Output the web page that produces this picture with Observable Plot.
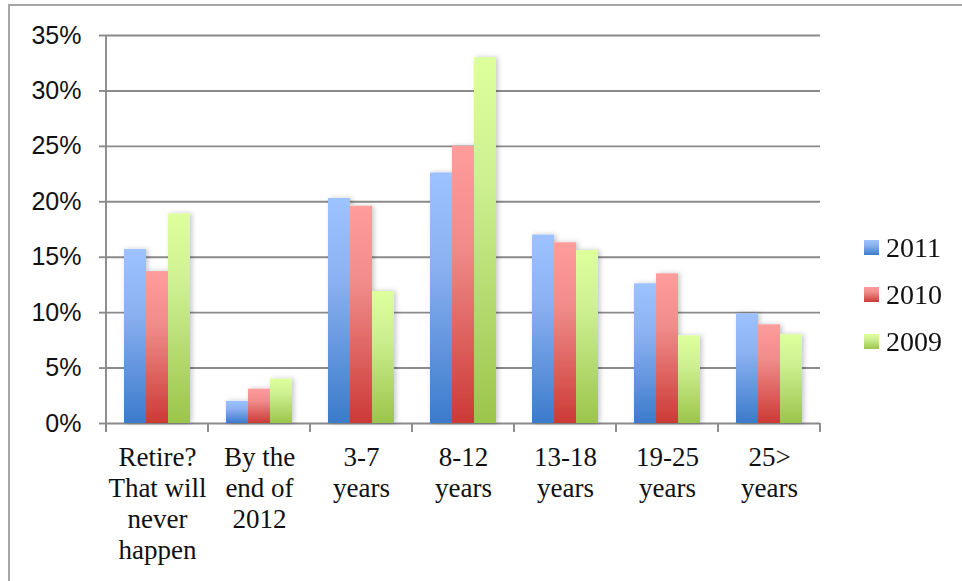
<!DOCTYPE html>
<html>
<head>
<meta charset="utf-8">
<script src="https://cdn.jsdelivr.net/npm/d3@7"></script>
<script src="https://cdn.jsdelivr.net/npm/@observablehq/plot@0.6"></script>
<style>
  body { margin: 0; background: #fff; }
  #wrap { position: relative; width: 962px; height: 581px; overflow: hidden; }
  #frame { position: absolute; left: 8px; top: 4px; width: 1200px; height: 900px;
           border-left: 2px solid #a6a6a6; border-top: 2px solid #a6a6a6; box-sizing: border-box; }
  #chart { position: absolute; left: 0; top: 0; }
</style>
</head>
<body>
<div id="wrap">
  <div id="frame"></div>
  <div id="chart"></div>
</div>
<script>
// ---- data ----
const categories = [
  "Retire?\nThat will\nnever\nhappen",
  "By the\nend of\n2012",
  "3-7\nyears",
  "8-12\nyears",
  "13-18\nyears",
  "19-25\nyears",
  "25>\nyears"
];
const years = ["2011", "2010", "2009"];
const values2011 = [15.7, 2.0, 20.3, 22.6, 17.0, 12.6, 9.9];
const values2010 = [13.7, 3.1, 19.6, 25.0, 16.3, 13.5, 8.9];
const values2009 = [18.9, 4.0, 11.9, 33.0, 15.6, 7.9, 8.0];
const yTicks = [0, 5, 10, 15, 20, 25, 30, 35];

const seriesByYear = { "2011": values2011, "2010": values2010, "2009": values2009 };
const data = years.flatMap(yr => categories.map((c, i) => ({ category: c, year: yr, value: seriesByYear[yr][i] })));

const gradStops = {
  "2011": ["#9dc2ff", "#8db2f2", "#3b7bcb"],
  "2010": ["#ff9c9c", "#f08d8b", "#cc3a36"],
  "2009": ["#ddff9c", "#cdef90", "#9bc54b"]
};

const chart = Plot.plot({
  width: 962,
  height: 581,
  marginLeft: 104,
  marginRight: 140,
  marginTop: 35,
  marginBottom: 158,
  style: { background: "transparent", overflow: "visible" },
  fx: { domain: categories, padding: 0, label: null },
  x: { domain: years, paddingInner: 0, paddingOuter: 0.73, axis: null },
  y: { domain: [0, 35], label: null },
  color: { domain: years, range: years.map(y => `url(#grad-${y})`) },
  marks: [
    Plot.ruleY(yTicks, { stroke: "#8a8a8a", strokeWidth: 1.9 }),
    Plot.barY(data, { fx: "category", x: "year", y: "value", fill: "year" }),
    Plot.axisY(yTicks, {
      tickFormat: d => d + "%", tickSize: 7, tickPadding: 18, label: null,
      stroke: "#8a8a8a", strokeWidth: 1.9, fill: "#111",
      fontSize: 25, fontFamily: "Liberation Sans"
    }),
    Plot.axisFx({
      anchor: "bottom",
      tickSize: 0, tickPadding: 20, label: null, fill: "#111",
      fontSize: 27, fontFamily: "Liberation Serif", lineHeight: 1.15
    })
  ]
});

document.getElementById("chart").appendChild(chart);

const svg = d3.select(chart);
const defs = svg.insert("defs", ":first-child");
for (const yr of years) {
  const g = defs.append("linearGradient").attr("id", `grad-${yr}`)
    .attr("x1", 0).attr("y1", 0).attr("x2", 0).attr("y2", 1);
  const [a, b, c] = gradStops[yr];
  g.append("stop").attr("offset", "0%").attr("stop-color", a);
  g.append("stop").attr("offset", "35%").attr("stop-color", b);
  g.append("stop").attr("offset", "100%").attr("stop-color", c);
}
const f = defs.append("filter").attr("id", "shadow")
  .attr("x", "-20%").attr("y", "-10%").attr("width", "160%").attr("height", "120%");
f.append("feDropShadow").attr("dx", 2).attr("dy", 0).attr("stdDeviation", 2.5)
  .attr("flood-color", "#000").attr("flood-opacity", 0.22);
svg.selectAll('g[aria-label="bar"]').attr("filter", "url(#shadow)");

// axis line and category boundary ticks, from the fx and y scales
const fx = chart.scale("fx");
const ys = chart.scale("y");
const y0 = ys.apply(0), yTop = ys.apply(35);
const edges = categories.map(c => fx.apply(c));
edges.push(fx.apply(categories[categories.length - 1]) + fx.bandwidth);
const ag = svg.append("g").attr("stroke", "#8a8a8a").attr("stroke-width", 1.9);
ag.append("line").attr("x1", edges[0]).attr("x2", edges[0]).attr("y1", yTop).attr("y2", y0 + 9);
for (const e of edges) {
  ag.append("line").attr("x1", e).attr("x2", e).attr("y1", y0).attr("y2", y0 + 9);
}

// legend
const lg = svg.append("g").attr("font-family", "Liberation Serif").attr("font-size", 28)
  .attr("fill", "#111").attr("text-anchor", "start");
years.forEach((yr, i) => {
  lg.append("rect").attr("x", 864).attr("y", 240 + 47 * i).attr("width", 15).attr("height", 15)
    .attr("fill", `url(#grad-${yr})`);
  lg.append("text").attr("x", 886).attr("y", 257 + 47 * i).text(yr);
});
</script>
</body>
</html>
